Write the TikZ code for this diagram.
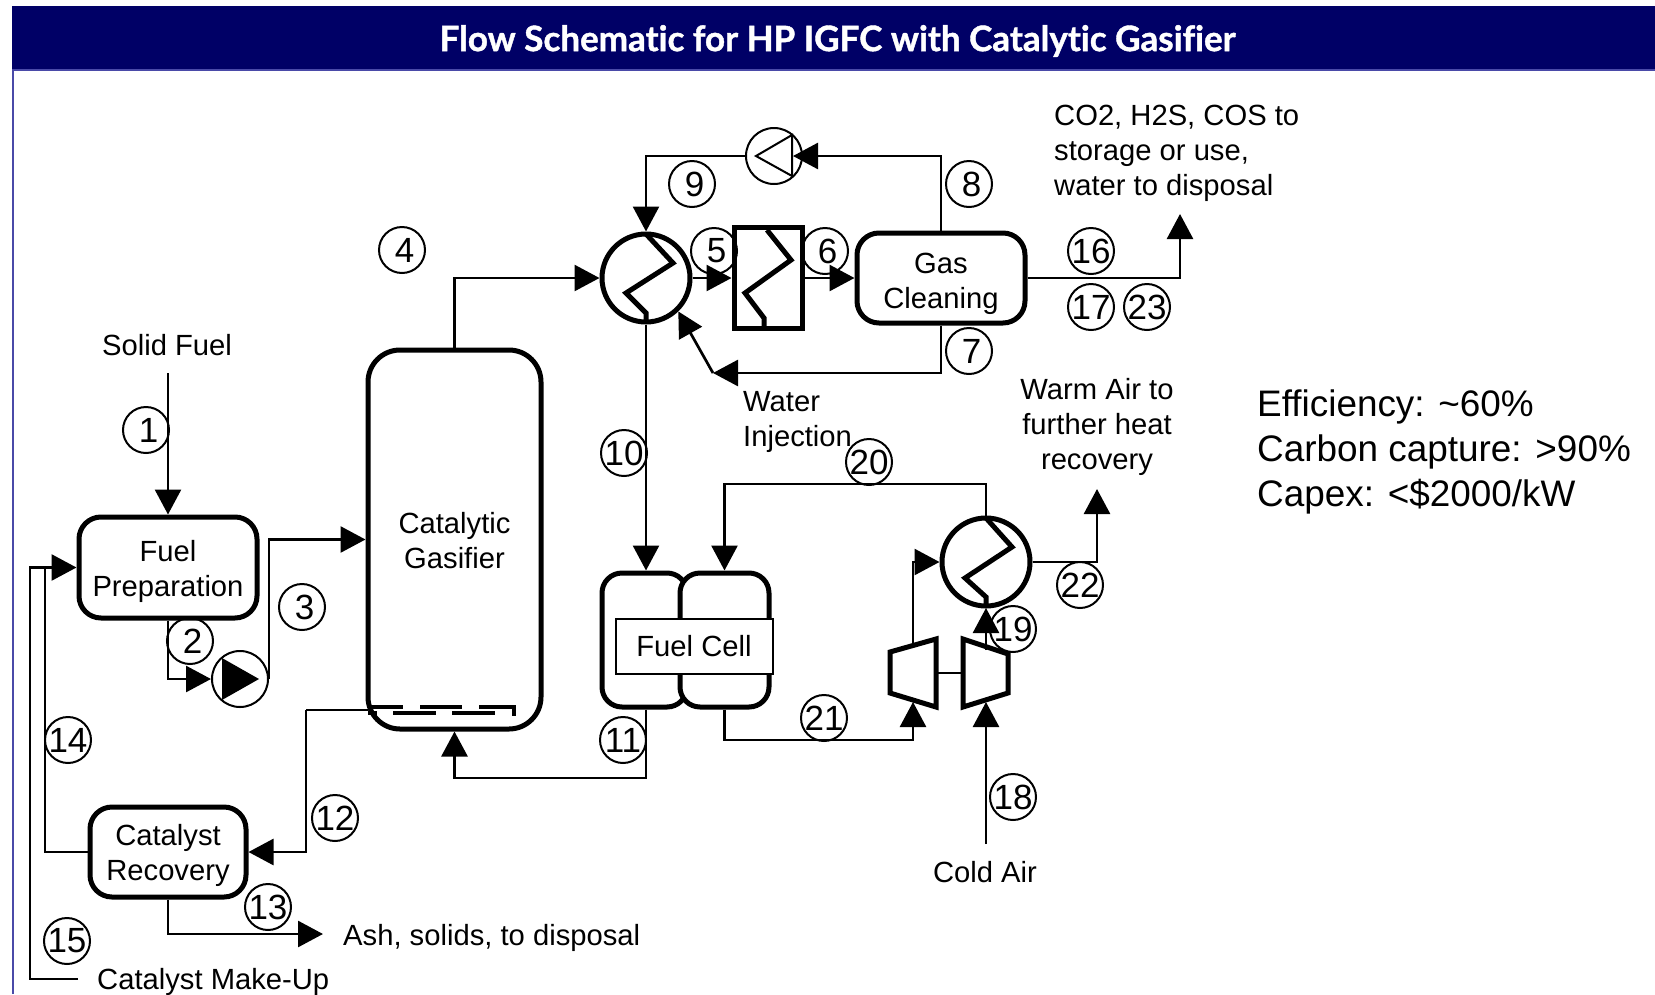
\documentclass[tikz,border=0pt]{standalone}
\usepackage{fontspec}
\setmainfont{Liberation Sans}
\newfontfamily\titlefont[Ligatures=NoCommon,BoldFeatures={FakeBold=1.2}]{Lato}
\usepackage{xcolor}
\usetikzlibrary{arrows.meta, calc, positioning}
\definecolor{barnavy}{HTML}{000066}
\definecolor{barline}{HTML}{4A4AA8}
\newcommand{\lowerby}[1]{\rule{0pt}{#1pt}}
\tikzset{
    lbl/.style={inner sep=0pt, align=center, font=\fontsize{29.2}{35}\selectfont},
    bigtxt/.style={inner sep=0pt, align=left, anchor=west, font=\fontsize{36.9}{45}\selectfont},
    titletxt/.style={inner sep=0pt, text=white, font=\titlefont\bfseries\fontsize{35}{40}\selectfont},
    unitbox/.style={draw, line width=5pt, rounded corners=#1, align=center, inner sep=0pt, font=\fontsize{29.2}{35}\selectfont},
    unitbox/.default=22pt,
    hxcirc/.style={draw, circle, line width=5pt, minimum size=88pt, inner sep=0pt},
    pumpcirc/.style={draw, circle, line width=2pt, minimum size=56pt, inner sep=0pt},
    numtag/.style={draw, circle, line width=2pt, minimum size=46pt, inner sep=0pt, font=\fontsize{35}{35}\selectfont},
    flow/.style={line width=2.7pt, -{Triangle[length=25pt,width=26pt]}},
    pipe/.style={line width=2.7pt},
    coil/.style={line width=5pt, line join=miter},
}
\begin{document}
\begin{tikzpicture}[x=1pt,y=-1pt]
    \useasboundingbox (0,0) rectangle (1655,994);
    \fill[barnavy] (12,6) rectangle (1655,70);
    \draw[barline,line width=2.5pt] (13,994) -- (13,70) -- (1655,70);
    \node[titletxt] (title) at (837.5,41) {Flow Schematic for HP IGFC with Catalytic Gasifier};

    \node[unitbox, minimum width=178pt, minimum height=101pt] (fuelprep) at (168,567.5) {\lowerby{29.5}Fuel\\Preparation};
    \node[unitbox, minimum width=156pt, minimum height=90pt] (catrec) at (168,852) {\lowerby{27.5}Catalyst\\Recovery};
    \node[unitbox=32pt, minimum width=173pt, minimum height=379pt] (gasifier) at (454.5,539.5) {\lowerby{24}Catalytic\\Gasifier};
    \node[unitbox, minimum width=168pt, minimum height=90pt] (gascl) at (941,278) {\lowerby{32}Gas\\Cleaning};
    \node[unitbox=20pt, fill=white, minimum width=85pt, minimum height=134pt] (fca) at (644.5,640) {};
    \node[unitbox=20pt, fill=white, minimum width=89pt, minimum height=134pt] (fcb) at (724.5,640) {};
    \node[draw, fill=white, line width=2pt, minimum width=157pt, minimum height=55pt, inner sep=0pt, font=\fontsize{29.2}{35}\selectfont] (fclabel) at (694,646) {Fuel Cell};

    \node[hxcirc] (hxa) at (646,278) {};
    \node[hxcirc] (hxc) at (986,562) {};
    \node[draw, line width=5pt, minimum width=68pt, minimum height=101pt, inner sep=0pt] (hxb) at (768,278) {};
    \node[pumpcirc] (pumpa) at (240,679) {};
    \node[pumpcirc] (pumpb) at (774,156) {};

    \draw[coil] (646,234) -- ++(27,29) -- ++(-47,30) -- ++(20,20) -- ++(0,9);
    \draw[coil] (986,518) -- ++(26,29) -- ++(-47,31) -- ++(21,19) -- ++(0,9);
    \draw[coil] (767,230) -- ++(24,30) -- ++(-46,33) -- ++(19,25) -- ++(0,10);
    \fill (222,658) -- (259,679) -- (222,700) -- cycle;
    \draw[line width=2pt] (792,135) -- (756,156) -- (792,176) -- cycle;

    \draw[line width=5pt, line join=miter] (890,652) -- (936,639) -- (936,707) -- (890,693) -- cycle;
    \draw[line width=5pt, line join=miter] (963,639) -- (1008,654) -- (1008,693) -- (963,707) -- cycle;
    \draw[pipe] (936,673) -- (963,673);

    \draw[line width=4.5pt] (368,707) -- (403,707) (420,707) -- (462,707) (479,707) -- (514,707) -- (514,716);
    \draw[line width=4.5pt] (368,713) -- (377,713) (393,713) -- (436,713) (452,713) -- (495,713);

    \node[lbl] (solid) at (167,345) {Solid Fuel};
    \node[lbl] (coldair) at (985,872) {Cold Air};
    \node[lbl] (warmair) at (1097,427) {Warm Air to\\further heat\\recovery};
    \node[lbl, anchor=west, align=left] (water) at (743,422) {Water\\Injection};
    \node[lbl, anchor=west, align=left] (acidgas) at (1054,153) {CO2, H2S, COS to\\storage or use,\\water to disposal};
    \node[lbl, anchor=west] (ashout) at (343,938) {Ash, solids, to disposal};
    \node[lbl, anchor=west] (makeup) at (97,982) {Catalyst Make-Up};
    \node[bigtxt] (stats) at (1257,452) {Efficiency: \string~60\%\\Carbon capture: >90\%\\Capex: <\$2000/kW};

    \coordinate (fuelin) at (168,373);
    \coordinate (airin) at (986,844);
    \coordinate (wi) at (713,373);
    \coordinate (syntop) at (454.5,278);
    \coordinate (pumpbin) at (793,156);
    \coordinate (oxlow) at (646,778);
    \coordinate (airtop) at (986,484);
    \coordinate (airlow) at (913,740);
    \coordinate (turbin) at (913,702);
    \coordinate (turbout) at (913,645);
    \coordinate (turbtop) at (913,562);
    \coordinate (compin) at (986,702);
    \coordinate (compout) at (986,650);
    \coordinate (compto) at (986,608);
    \coordinate (catout) at (368,710);
    \coordinate (catbend) at (306,710);
    \coordinate (recy) at (45,567.5);
    \coordinate (feed) at (30,567.5);
    \coordinate (mkup) at (78,979);
    \coordinate (ash) at (323,934);
    \coordinate (warm) at (1097,489);
    \coordinate (acid) at (1180,214);

    \draw[flow] (fuelin) -- (fuelprep.north);
    \draw[flow] (fuelprep.south) |- (pumpa.west);
    \draw[flow] (pumpa.east) |- (gasifier.west);
    \draw[flow] (gasifier.north) -- (syntop) -- (hxa.west);
    \draw[flow] (hxa.east) -- (hxb.west);
    \draw[flow] (hxb.east) -- (gascl.west);
    \draw[flow] (gascl.south) |- (wi);
    \draw[flow] (wi) -- (hxa.-46);
    \draw[flow] (gascl.north) |- (pumpbin);
    \draw[flow] (pumpb.west) -| (hxa.north);
    \draw[flow] (hxa.south) -- (hxa.south |- fca.north);
    \draw[flow] (oxlow |- fca.south) -- (oxlow) -| (gasifier.south);
    \draw[pipe] (catout) -- (catbend);
    \draw[flow] (catbend) |- (catrec.east);
    \draw[flow] (catrec.south) |- (ash);
    \draw[pipe] (catrec.west) -| (recy);
    \draw[flow] (recy) -- (fuelprep.west);
    \draw[pipe] (mkup) -| (feed) -- (recy);
    \draw[flow] (gascl.east) -| (acid);
    \draw[flow] (airin) -- (compin);
    \draw[flow] (compout) -- (compto);
    \draw[flow] (turbout) -- (turbtop) -- (hxc.west);
    \draw[flow] (hxc.north) -- (airtop) -| (fcb.north);
    \draw[flow] (fcb.south) |- (airlow) -- (turbin);
    \draw[flow] (hxc.east) -| (warm);

    \foreach \n/\x/\y in {1/146/430, 2/190/641, 3/302/607, 4/402/250, 5/714/251, 6/825/251,
        7/969/351, 8/969/184, 9/692/184, 10/624/453, 11/623/740, 12/335/818, 13/268/907,
        14/68/740, 15/67/941, 16/1091/251, 17/1091/307, 18/1013/797, 19/1013/629,
        20/869/462, 21/824/718, 22/1080/585, 23/1147/307}
        \node[numtag] (tag\n) at (\x,\y) {\makebox[0pt]{\ifnum\n<10 \hspace*{5pt}\fi\n}};
\end{tikzpicture}
\end{document}
